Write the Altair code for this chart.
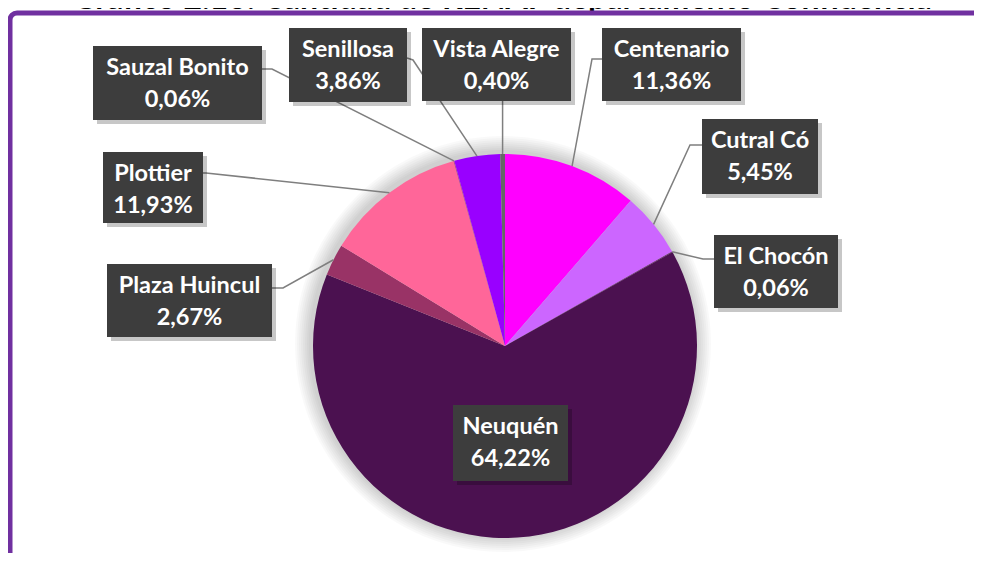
import math
import altair as alt
import pandas as pd

# ---- data ----
categories = ["Centenario", "Cutral Có", "El Chocón", "Neuquén", "Plaza Huincul",
              "Plottier", "Sauzal Bonito", "Senillosa", "Vista Alegre"]
values = [11.36, 5.45, 0.06, 64.22, 2.67, 11.93, 0.06, 3.86, 0.40]
colors = ["#FF00FF", "#CC66FF", "#5A1A60", "#4B1150", "#993366",
          "#FF6699", "#B0307A", "#9900FF", "#666666"]
title_text = "Gráfico 2.16: Cantidad de RENAF departamento Confluencia"

# ---- layout (page pixels) ----
OFF = 8
W, H = 982 - 2 * OFF, 561 - 2 * OFF
CX, CY, R = 505 - OFF, 346 - OFF, 192

# label boxes: x0, x1, y0, y1 (page coords)
boxes = {
    "Sauzal Bonito": (93, 262, 46, 120),
    "Senillosa": (289, 407, 28, 102),
    "Vista Alegre": (422, 571, 28, 101),
    "Centenario": (602, 741, 28, 101),
    "Cutral Có": (702, 818, 119, 194),
    "El Chocón": (714, 838, 235, 308),
    "Plottier": (103, 203, 152, 223),
    "Plaza Huincul": (107, 272, 264, 337),
    "Neuquén": (453, 568, 405, 481),
}
# leader anchor points (page coords) before the slice point
anchors = {
    "Sauzal Bonito": [(262, 69), (272, 69)],
    "Senillosa": [(407, 58), (413, 60)],
    "Vista Alegre": None,
    "Centenario": [(602, 59), (592, 59)],
    "Cutral Có": [(702, 145), (690, 145)],
    "El Chocón": [(714, 259), (703, 259)],
    "Plottier": [(203, 173), (206, 173)],
    "Plaza Huincul": [(272, 288), (283, 288)],
}

def fmt(v):
    return f"{v:.2f}".replace(".", ",") + "%"

pie_df = pd.DataFrame({"cat": categories, "value": values,
                       "idx": list(range(len(categories)))})

total = sum(values)
line_rows = []
cum = 0.0
for c, v in zip(categories, values):
    mid = cum + v / 2
    cum += v
    a = 2 * math.pi * mid / total
    ex = CX + R * math.sin(a)
    ey = CY - R * math.cos(a)
    if c not in anchors:
        continue
    pts = anchors[c]
    if pts is None:
        pts = [(ex + OFF, boxes[c][3])]
    k = 0
    for (px, py) in pts:
        line_rows.append({"seg": c, "ord": k, "x": px - OFF, "y": py - OFF})
        k += 1
    line_rows.append({"seg": c, "ord": k, "x": ex, "y": ey})
line_df = pd.DataFrame(line_rows)

box_rows = []
for c, v in zip(categories, values):
    x0, x1, y0, y1 = boxes[c]
    box_rows.append({"cat": c, "pct": fmt(v),
                     "x0": x0 - OFF, "x1": x1 - OFF, "y0": y0 - OFF, "y1": y1 - OFF,
                     "xc": (x0 + x1) / 2 - OFF,
                     "t1": y0 - OFF + 22, "t2": y0 - OFF + 54,
                     "sx0": x0 - OFF + 4, "sx1": x1 - OFF + 4,
                     "sy0": y0 - OFF + 4, "sy1": y1 - OFF + 4})
box_df = pd.DataFrame(box_rows)

xs = alt.Scale(domain=[0, W], range=[0, W], nice=False, zero=False)
ys = alt.Scale(domain=[0, H], range=[0, H], nice=False, zero=False)

one = pd.DataFrame({"d": [0]})

# ---- purple frame (top + left edges with rounded corner) ----
PURPLE = "#7030A0"
FX, FY, CR, SW = 2, 5, 7, 5
frame_top = alt.Chart(one).mark_rule(color=PURPLE, strokeWidth=SW, strokeCap="butt").encode(
    x=alt.value(FX + CR), x2=alt.value(W), y=alt.value(FY))
frame_left = alt.Chart(one).mark_rule(color=PURPLE, strokeWidth=SW, strokeCap="butt").encode(
    x=alt.value(FX), y=alt.value(FY + CR), y2=alt.value(H))
frame_corner = alt.Chart(one).mark_arc(
    radius=CR + SW / 2, radius2=CR - SW / 2, theta=4.7124, theta2=6.2832, color=PURPLE
).encode(x=alt.value(FX + CR), y=alt.value(FY + CR))

glow_layers = []
for k in range(1, 9):
    glow_layers.append(
        alt.Chart(one).mark_arc(radius=R + 2 * k, theta=0, theta2=6.2832,
                                color="black", opacity=0.022)
        .encode(x=alt.value(CX - 2), y=alt.value(CY - 2))
    )

pie = alt.Chart(pie_df).mark_arc(radius=R).encode(
    theta=alt.Theta("value:Q", stack=True),
    color=alt.Color("cat:N", scale=alt.Scale(domain=categories, range=colors), legend=None),
    order=alt.Order("idx:Q"),
    x=alt.value(CX), y=alt.value(CY),
)

lines = alt.Chart(line_df).mark_line(color="#7F7F7F", strokeWidth=1.5).encode(
    x=alt.X("x:Q", scale=xs, axis=None),
    y=alt.Y("y:Q", scale=ys, axis=None),
    detail="seg:N",
    order="ord:Q",
)

shadows = alt.Chart(box_df).mark_rect(color="black", opacity=0.22).encode(
    x=alt.X("sx0:Q", scale=xs, axis=None), x2="sx1:Q",
    y=alt.Y("sy0:Q", scale=ys, axis=None), y2="sy1:Q",
)

rects = alt.Chart(box_df).mark_rect(color="#3D3D3D").encode(
    x=alt.X("x0:Q", scale=xs, axis=None), x2="x1:Q",
    y=alt.Y("y0:Q", scale=ys, axis=None), y2="y1:Q",
)

txt_kw = dict(color="white", font="Lato", fontWeight="bold", fontSize=23.5,
              align="center", baseline="middle")
t1 = alt.Chart(box_df).mark_text(**txt_kw).encode(
    x=alt.X("xc:Q", scale=xs, axis=None), y=alt.Y("t1:Q", scale=ys, axis=None),
    text="cat:N")
t2 = alt.Chart(box_df).mark_text(**txt_kw).encode(
    x=alt.X("xc:Q", scale=xs, axis=None), y=alt.Y("t2:Q", scale=ys, axis=None),
    text="pct:N")

title = alt.Chart(pd.DataFrame({"t": [title_text]})).mark_text(
    font="Lato", fontWeight="bold", fontSize=32, color="black",
    align="center", baseline="alphabetic"
).encode(x=alt.value(502 - OFF), y=alt.value(1), text="t:N")

chart = alt.layer(*glow_layers, pie, lines, shadows, rects, t1, t2, title,
                  frame_top, frame_left, frame_corner).properties(
    width=W, height=H, autosize=alt.AutoSizeParams(type="none"), padding=0,
    background="white",
).configure_view(strokeWidth=0, strokeOpacity=0, fill="white")

chart.save("out.html", embed_options={"renderer": "svg", "actions": False})
